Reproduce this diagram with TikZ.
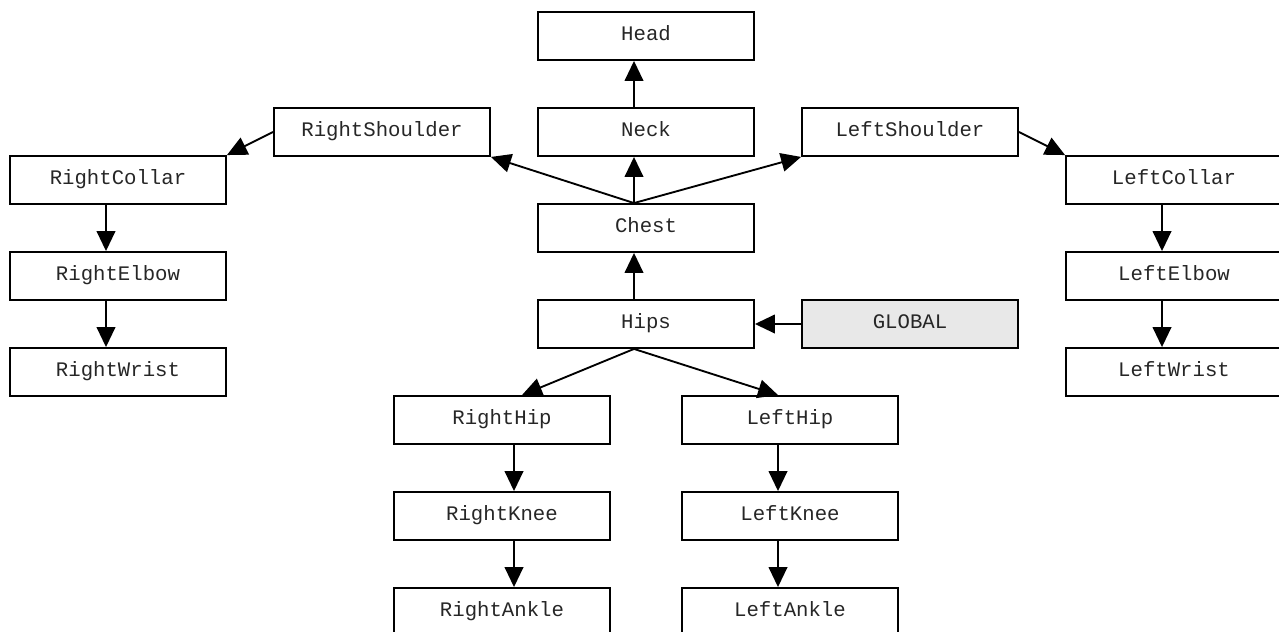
\documentclass[tikz,border=0pt]{standalone}
\usepackage{fontspec}
\newfontfamily\skelfont{Liberation Mono}
\usetikzlibrary{arrows.meta}
\begin{document}
\begin{tikzpicture}[x=0.75pt,y=-0.75pt,
  joint/.style={draw, line width=1.4pt, minimum width=162pt, minimum height=36pt,
    inner sep=0pt, text height=9pt, text depth=3pt, text=black!85,
    font=\skelfont\fontsize{15.5}{18}\selectfont},
  rootbox/.style={joint, fill=black!9},
  bone/.style={line width=1.4pt, -{Triangle[length=15pt,width=14pt]}}]
\useasboundingbox (0,0) rectangle (1279,632);
% skeleton joints (centres in pixel units)
\node[joint] (head)  at (646,36)   {Head};
\node[joint] (neck)  at (646,132)  {Neck};
\node[joint] (rsh)   at (382,132)  {RightShoulder};
\node[joint] (lsh)   at (910,132)  {LeftShoulder};
\node[joint] (rcol)  at (118,180)  {RightCollar};
\node[joint] (lcol)  at (1174,180) {LeftCollar};
\node[joint] (chest) at (646,228)  {Chest};
\node[joint] (relb)  at (118,276)  {RightElbow};
\node[joint] (lelb)  at (1174,276) {LeftElbow};
\node[joint] (hips)  at (646,324)  {Hips};
\node[rootbox] (glob) at (910,324) {GLOBAL};
\node[joint] (rwr)   at (118,372)  {RightWrist};
\node[joint] (lwr)   at (1174,372) {LeftWrist};
\node[joint] (rhip)  at (502,420)  {RightHip};
\node[joint] (lhip)  at (790,420)  {LeftHip};
\node[joint] (rkn)   at (502,516)  {RightKnee};
\node[joint] (lkn)   at (790,516)  {LeftKnee};
\node[joint] (rank)  at (502,612)  {RightAnkle};
\node[joint] (lank)  at (790,612)  {LeftAnkle};
% hierarchy links
\draw[bone] ([xshift=-9pt]neck.north) -- ([xshift=-9pt]head.south);
\draw[bone] ([xshift=-9pt]chest.north) -- ([xshift=-9pt]neck.south);
\draw[bone] ([xshift=-9pt]chest.north) -- (rsh.south east);
\draw[bone] ([xshift=-9pt]chest.north) -- (lsh.south west);
\draw[bone] (rsh.west) -- (rcol.north east);
\draw[bone] (lsh.east) -- (lcol.north west);
\draw[bone] ([xshift=-9pt]rcol.south) -- ([xshift=-9pt]relb.north);
\draw[bone] ([xshift=-9pt]relb.south) -- ([xshift=-9pt]rwr.north);
\draw[bone] ([xshift=-9pt]lcol.south) -- ([xshift=-9pt]lelb.north);
\draw[bone] ([xshift=-9pt]lelb.south) -- ([xshift=-9pt]lwr.north);
\draw[bone] ([xshift=-9pt]hips.north) -- ([xshift=-9pt]chest.south);
\draw[bone] (glob.west) -- (hips.east);
\draw[bone] ([xshift=-9pt]hips.south) -- ([xshift=15pt]rhip.north);
\draw[bone] ([xshift=-9pt]hips.south) -- ([xshift=-9pt]lhip.north);
\draw[bone] ([xshift=9pt]rhip.south) -- ([xshift=9pt]rkn.north);
\draw[bone] ([xshift=9pt]rkn.south) -- ([xshift=9pt]rank.north);
\draw[bone] ([xshift=-9pt]lhip.south) -- ([xshift=-9pt]lkn.north);
\draw[bone] ([xshift=-9pt]lkn.south) -- ([xshift=-9pt]lank.north);
\end{tikzpicture}
\end{document}
